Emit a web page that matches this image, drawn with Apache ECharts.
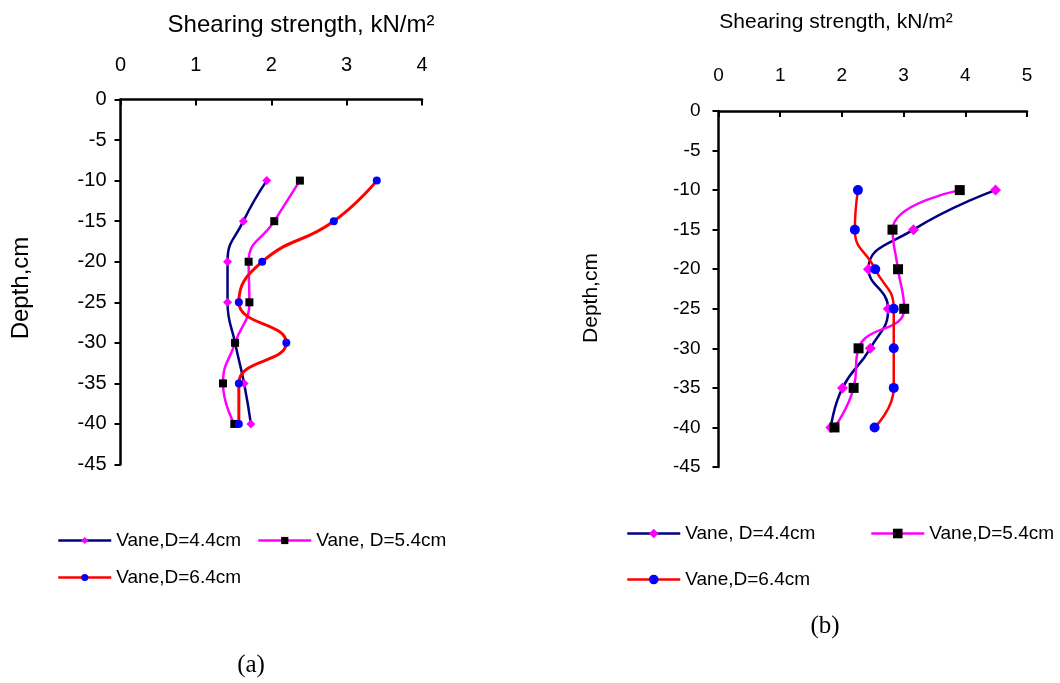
<!DOCTYPE html>
<html>
<head>
<meta charset="utf-8">
<script src="https://cdn.jsdelivr.net/npm/echarts@6/dist/echarts.min.js"></script>
<style>
html,body{margin:0;padding:0;background:#fff;}
#c{width:1060px;height:683px;}
</style>
</head>
<body>
<div id="c"></div>
<script>
// ---- data ----
var depths = [-10, -15, -20, -25, -30, -35, -40];
// chart (a)
var a_D44 = [1.94, 1.63, 1.42, 1.42, 1.52, 1.64, 1.73];
var a_D54 = [2.38, 2.04, 1.70, 1.71, 1.52, 1.36, 1.51];
var a_D64 = [3.40, 2.83, 1.88, 1.57, 2.20, 1.57, 1.57];
// chart (b)
var b_D44 = [4.49, 3.16, 2.43, 2.75, 2.46, 2.01, 1.82];
var b_D54 = [3.91, 2.82, 2.91, 3.01, 2.27, 2.19, 1.88];
var b_D64 = [2.26, 2.21, 2.54, 2.84, 2.84, 2.84, 2.53];
var namesA = ['Vane,D=4.4cm', 'Vane, D=5.4cm', 'Vane,D=6.4cm'];
var namesB = ['Vane, D=4.4cm', 'Vane,D=5.4cm', 'Vane,D=6.4cm '];
var xTitle = 'Shearing strength, kN/m\u00b2';
var yTitle = 'Depth,cm';

function pairs(xs) { return xs.map(function (v, i) { return [v, depths[i]]; }); }

var FONT = 'Liberation Sans, Arial, sans-serif';

function mkX(gi, max, fs, margin) {
  return {
    type: 'value', gridIndex: gi, position: 'top', min: 0, max: max, interval: 1,
    axisLine: { show: true, onZero: false, lineStyle: { color: '#000', width: 2.5 } },
    axisTick: { show: true, inside: true, length: 6, lineStyle: { color: '#000', width: 2 } },
    axisLabel: { color: '#000', fontSize: fs, fontFamily: FONT, margin: margin },
    splitLine: { show: false }
  };
}
function mkY(gi, fs, margin) {
  return {
    type: 'value', gridIndex: gi, min: -45, max: 0, interval: 5,
    axisLine: { show: true, onZero: false, lineStyle: { color: '#000', width: 2.5 } },
    axisTick: { show: true, inside: false, length: 6, lineStyle: { color: '#000', width: 2 } },
    axisLabel: { color: '#000', fontSize: fs, fontFamily: FONT, margin: margin },
    splitLine: { show: false }
  };
}
function mkS(name, gi, vals, lineColor, sym, symColor, size, lw) {
  return {
    name: name, type: 'line', xAxisIndex: gi, yAxisIndex: gi,
    data: pairs(vals), smooth: true,
    symbol: sym, symbolSize: size, showSymbol: true,
    lineStyle: { color: lineColor, width: lw },
    itemStyle: { color: symColor, borderWidth: 0 },
    emphasis: { disabled: true }, animation: false
  };
}
function mkL(name, left, cy, ih) {
  return {
    data: [name], left: left, top: cy - 11, padding: 0, itemWidth: 53, itemHeight: ih,
    itemGap: 0, selectedMode: false,
    lineStyle: { width: 2.5 },
    textStyle: { color: '#000', fontSize: 19, fontFamily: FONT, padding: [0, 0, 0, 0] }
  };
}

var option = {
  backgroundColor: '#fff',
  animation: false,
  grid: [
    { left: 120.5, top: 99.5, width: 301.5, height: 365, containLabel: false },
    { left: 718.5, top: 111, width: 308.5, height: 356, containLabel: false }
  ],
  xAxis: [mkX(0, 4, 20, 24), mkX(1, 5, 19, 26)],
  yAxis: [mkY(0, 20, 14), mkY(1, 19, 18)],
  legend: [
    mkL(namesA[0], 57, 542, 9),
    mkL(namesA[1], 257, 542, 9),
    mkL(namesA[2], 57, 579, 9),
    mkL(namesB[0], 626, 535, 12),
    mkL(namesB[1], 870, 535, 12),
    mkL(namesB[2], 626, 581, 12)
  ],
  series: [
    mkS(namesA[0], 0, a_D44, '#000080', 'diamond', '#ff00ff', 9, 2.5),
    mkS(namesA[1], 0, a_D54, '#ff00ff', 'rect', '#000000', 8, 2.5),
    mkS(namesA[2], 0, a_D64, '#ff0000', 'circle', '#0000ff', 8, 3),
    mkS(namesB[0], 1, b_D44, '#000080', 'diamond', '#ff00ff', 11, 2.5),
    mkS(namesB[1], 1, b_D54, '#ff00ff', 'rect', '#000000', 10, 2.5),
    mkS(namesB[2], 1, b_D64, '#ff0000', 'circle', '#0000ff', 10, 2.5)
  ],
  graphic: [
    { type: 'text', x: 301, y: 25, style: { text: xTitle, fill: '#000', font: '24px ' + FONT, textAlign: 'center', textVerticalAlign: 'middle' } },
    { type: 'text', x: 836, y: 22, style: { text: xTitle, fill: '#000', font: '21px ' + FONT, textAlign: 'center', textVerticalAlign: 'middle' } },
    { type: 'text', x: 21, y: 288, rotation: Math.PI / 2, style: { text: yTitle, fill: '#000', font: '24px ' + FONT, textAlign: 'center', textVerticalAlign: 'middle' } },
    { type: 'text', x: 591, y: 298, rotation: Math.PI / 2, style: { text: yTitle, fill: '#000', font: '21px ' + FONT, textAlign: 'center', textVerticalAlign: 'middle' } },
    { type: 'text', x: 251, y: 665, style: { text: '(a)', fill: '#000', font: '25px Liberation Serif, Times New Roman, serif', textAlign: 'center', textVerticalAlign: 'middle' } },
    { type: 'text', x: 825, y: 626, style: { text: '(b)', fill: '#000', font: '25px Liberation Serif, Times New Roman, serif', textAlign: 'center', textVerticalAlign: 'middle' } }
  ]
};
var chart = echarts.init(document.getElementById('c'), null, { renderer: 'canvas' });
chart.setOption(option);
</script>
</body>
</html>
